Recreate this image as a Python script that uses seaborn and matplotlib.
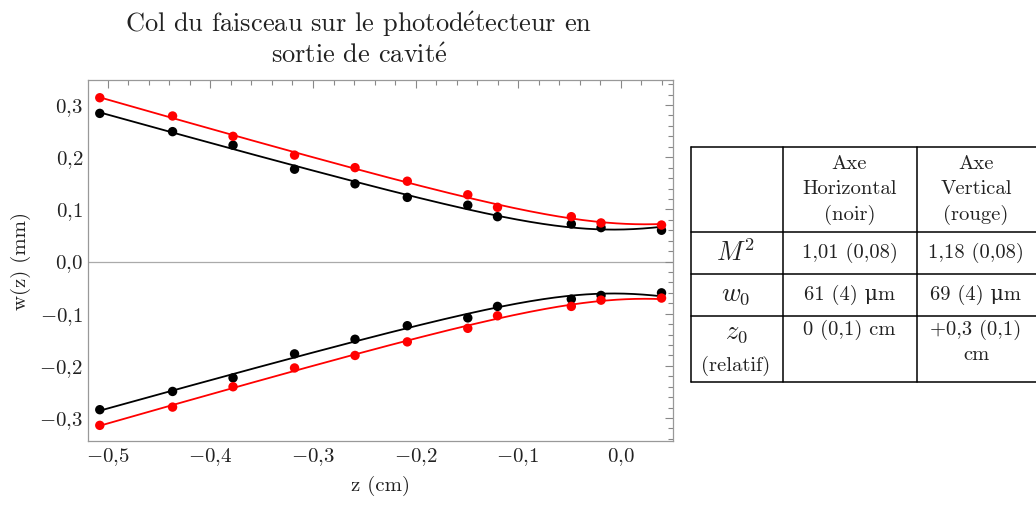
import numpy as np
import pandas as pd
import matplotlib
matplotlib.use("Agg")
import matplotlib.pyplot as plt
import matplotlib.ticker as mticker
import seaborn as sns

# Points mesurés (demi-largeur du faisceau, mm) en fonction de z (cm)
z_cm = [-0.508, -0.437, -0.378, -0.318, -0.259, -0.208, -0.149, -0.120, -0.048, -0.019, 0.040]
w_noir = [0.284, 0.249, 0.223, 0.177, 0.149, 0.123, 0.108, 0.086, 0.072, 0.065, 0.060]
w_rouge = [0.314, 0.279, 0.240, 0.204, 0.180, 0.154, 0.128, 0.104, 0.086, 0.074, 0.070]

# Tableau des résultats
col_titres = ["Axe\nHorizontal\n(noir)", "Axe\nVertical\n(rouge)"]
lignes = [r"$M^2$", r"$w_0$", r"$z_0$"]
val_noir = ["1,01 (0,08)", "61 (4) \u03bcm", "0 (0,1) cm"]
val_rouge = ["1,18 (0,08)", "69 (4) \u03bcm", "+0,3 (0,1)\ncm"]

sns.set_style("white")
plt.rcParams["font.family"] = ["cmr10", "DejaVu Serif"]
plt.rcParams["mathtext.fontset"] = "cm"
plt.rcParams["axes.unicode_minus"] = True

W, H = 1036, 509
fig = plt.figure(figsize=(W / 100, H / 100), dpi=100)
ax = fig.add_axes([88 / W, 1 - 441 / H, (673 - 88) / W, (441 - 80) / H])

df = pd.DataFrame({"z": z_cm * 2, "w": w_noir + w_rouge,
                   "axe": ["noir"] * len(z_cm) + ["rouge"] * len(z_cm)})
couleurs = {"noir": "black", "rouge": "#ff0000"}

# ajustement gaussien : w^2 est un polynôme de degré 2 en z
zz = np.linspace(min(z_cm), max(z_cm), 300)
for axe, g in df.groupby("axe"):
    coef = np.polyfit(g["z"], g["w"] ** 2, 2)
    fit = np.sqrt(np.polyval(coef, zz))
    for s in (1, -1):
        sns.lineplot(x=zz, y=s * fit, color=couleurs[axe], lw=1.3, ax=ax)
        sns.scatterplot(x=g["z"], y=s * g["w"], color=couleurs[axe], s=46,
                        edgecolor="none", ax=ax, zorder=3)

ax.axhline(0, color="#aaaaaa", lw=0.9, zorder=0)
ax.set_xlim(-0.5195, 0.0512)
ax.set_ylim(-0.344, 0.348)

def virgule(v, pos):
    t = f"{v:.1f}".replace("-0.0", "0.0").replace(".", "{,}")
    return f"${t}$"

ax.xaxis.set_major_locator(mticker.MultipleLocator(0.1))
ax.xaxis.set_minor_locator(mticker.MultipleLocator(0.02))
ax.yaxis.set_major_locator(mticker.MultipleLocator(0.1))
ax.yaxis.set_minor_locator(mticker.MultipleLocator(0.02))
ax.xaxis.set_major_formatter(mticker.FuncFormatter(virgule))
ax.yaxis.set_major_formatter(mticker.FuncFormatter(virgule))
ax.tick_params(which="both", direction="in", top=True, right=True,
               color="#888888", width=0.8, labelsize=15, labelcolor="#222222")
ax.tick_params(which="major", length=6)
ax.tick_params(which="minor", length=3.5)
for sp in ax.spines.values():
    sp.set_color("#999999")
    sp.set_linewidth(0.9)

ax.set_xlabel("z (cm)", fontsize=15, color="#222222", labelpad=6)
ax.set_ylabel("w(z) (mm)", fontsize=15, color="#222222", labelpad=6)
ax.set_title("Col du faisceau sur le photod$\\mathrm{\\acute{e}}$tecteur en\n"
             "sortie de cavit$\\mathrm{\\acute{e}}$", x=0.463,
             fontsize=19, color="#222222", pad=12, linespacing=1.25)

# tableau à droite, en coordonnées pixels
tx = fig.add_axes([690 / W, 1 - 382 / H, (W - 690) / W, (382 - 146) / H])
tx.set_xlim(690, W)
tx.set_ylim(382, 146)
tx.axis("off")
for y in (146.5, 232, 274, 316, 381.5):
    tx.plot([690.5, W], [y, y], color="black", lw=1.1, clip_on=False)
for x in (690.5, 782.5, 916.5):
    tx.plot([x, x], [146.5, 381.5], color="black", lw=1.1, clip_on=False)

kw = dict(ha="center", color="#222222", fontsize=14.8)
for xc, titre in zip((849.5, 976), col_titres):
    tx.text(xc, 190, titre, va="center", linespacing=1.45, **kw)
for yc, lab in zip((253, 295), lignes[:2]):
    tx.text(736, yc, lab, va="center", fontsize=19, ha="center", color="#222222")
tx.text(736, 333, lignes[2], va="center", fontsize=19, ha="center", color="#222222")
tx.text(736, 366, "(relatif)", va="center", **kw)
for xc, vals in zip((849.5, 976), (val_noir, val_rouge)):
    tx.text(xc, 253, vals[0], va="center", **kw)
    tx.text(xc, 295, vals[1], va="center", **kw)
    tx.text(xc, 320, vals[2], va="top", linespacing=1.45, **kw)

fig.savefig("out.png", dpi=100)
